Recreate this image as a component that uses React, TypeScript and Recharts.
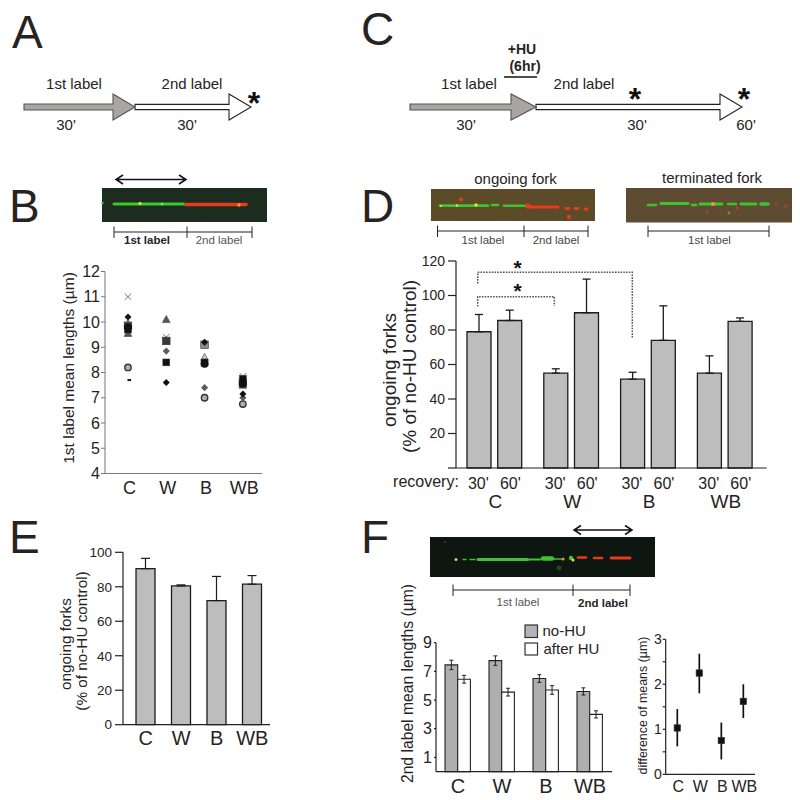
import React from 'react';
import { BarChart, Bar, XAxis, YAxis, ErrorBar, ScatterChart, Scatter } from 'recharts';

const categories = ['C', 'W', 'B', 'WB'];
const categoryIndex = [0, 1, 2, 3];

// Panel B: one list per marker kind, one value per category
const bXGray = [11.0, 9.4, null, 7.85];
const bTriDark = [9.55, 10.1, null, 7.5];
const bTriLight = [null, null, 8.6, null];
const bSquareDark = [9.85, 9.25, null, 7.6];
const bSquareGray = [null, null, 9.1, null];
const bSquareBlack = [9.7, 8.4, 8.4, 7.75];
const bDiamondBlack = [10.2, 7.6, 9.2, 7.15];
const bDiamondGray = [9.95, 8.85, 7.4, 7.0];
const bCircleBlack = [9.8, null, 8.35, 7.55];
const bCircleLight = [8.2, null, 7.0, 6.75];
const bDash = [7.7, null, null, null];

// Panel D
const dMin30 = [79, 55, 51.5, 55];
const dMin60 = [85.5, 90, 74, 85];
const dErr30 = [10, 2.5, 4, 10];
const dErr60 = [6, 19.5, 20, 2];
const dTicks = [0, 20, 40, 60, 80, 100, 120];

// Panel E
const eValues = [90.5, 80.5, 72, 81.5];
const eErr = [6, 0.6, 14, 5];
const eTicks = [0, 20, 40, 60, 80, 100];

// Panel F, bars
const fNoHU = [7.45, 7.75, 6.5, 5.6];
const fAfterHU = [6.45, 5.55, 5.7, 4.0];
const fNoHUErr = [0.33, 0.33, 0.27, 0.25];
const fAfterHUErr = [0.27, 0.27, 0.3, 0.25];
const fTicks = [1, 3, 5, 7, 9];

// Panel F, difference of means
const gMeans = [1.03, 2.25, 0.75, 1.62];
const gLow = [0.41, 0.45, 0.42, 0.37];
const gHigh = [0.42, 0.43, 0.4, 0.38];
const gTicks = [0, 0.5, 1, 1.5, 2, 2.5, 3];

const INK = '#262324';
const FONT = '"Liberation Sans", Arial, sans-serif';
const GREEN = '#3fc232';
const RED = '#e63a1c';
const YEL = '#e6e23c';

const dData = categories.map((name, i) => ({
  name, min30: dMin30[i], min60: dMin60[i], err30: [0, dErr30[i]], err60: [0, dErr60[i]],
}));
const eData = categories.map((name, i) => ({ name, value: eValues[i], err: [0, eErr[i]] }));
const fData = categories.map((name, i) => ({
  name, noHU: fNoHU[i], afterHU: fAfterHU[i], errA: fNoHUErr[i], errB: fAfterHUErr[i],
}));
const gData = categories.map((name, i) => ({ x: i, y: gMeans[i], err: [gLow[i], gHigh[i]] }));
const pts = (vals: (number | null)[]) =>
  vals.map((y, x) => ({ x, y })).filter((p) => p.y !== null);
const catName = (v: number) => categories[v] ?? '';

const marker = (kind: string, fill: string, s = 3.6) => (props: any) => {
  const { cx, cy } = props;
  if (cx == null || cy == null) return <g />;
  if (kind === 'x')
    return (
      <path d={`M${cx - 3.2} ${cy - 3.2}L${cx + 3.2} ${cy + 3.2}M${cx + 3.2} ${cy - 3.2}L${cx - 3.2} ${cy + 3.2}`} stroke={fill} strokeWidth={0.9} fill="none" />
    );
  if (kind === 'tri') return <polygon points={`${cx},${cy - s - 0.5} ${cx + s + 0.3},${cy + s - 0.5} ${cx - s - 0.3},${cy + s - 0.5}`} fill={fill} stroke="#444" strokeWidth={0.6} />;
  if (kind === 'square') return <rect x={cx - s} y={cy - s} width={s * 2} height={s * 2} fill={fill} stroke="#333" strokeWidth={0.6} />;
  if (kind === 'diamond') return <polygon points={`${cx},${cy - s} ${cx + s},${cy} ${cx},${cy + s} ${cx - s},${cy}`} fill={fill} />;
  if (kind === 'circle') return <circle cx={cx} cy={cy} r={s} fill={fill} />;
  if (kind === 'ring') return <circle cx={cx} cy={cy} r={s} fill={fill} stroke="#333" strokeWidth={1.4} />;
  if (kind === 'dash') return <rect x={cx - 0.5} y={cy - 1} width={3.6} height={2} fill={fill} />;
  return <g />;
};

const T = ({ x, y, size, bold, rot, anchor = 'middle', fill = INK, children }: any) => (
  <text
    x={x}
    y={y}
    fontSize={size}
    fontWeight={bold ? 'bold' : 'normal'}
    textAnchor={anchor}
    dominantBaseline="central"
    fill={fill}
    fontFamily={FONT}
    transform={rot ? `rotate(-90 ${x} ${y})` : undefined}
  >
    {children}
  </text>
);

const Letter = ({ x, y, children }: any) => (
  <text x={x} y={y} fontSize={46} fill={INK} fontFamily={FONT}>{children}</text>
);

const Arrow = ({ x0, xh, xt, y, half, head, fill, stroke }: any) => (
  <polygon
    points={`${x0},${y - half} ${xh},${y - half} ${xh},${y - head} ${xt},${y} ${xh},${y + head} ${xh},${y + half} ${x0},${y + half}`}
    fill={fill}
    stroke={stroke}
    strokeWidth={1.1}
  />
);

const Star = ({ x, y, size = 32 }: any) => (
  <text x={x} y={y + size * 0.42} fontSize={size} fontWeight="bold" textAnchor="middle" fill="#111" fontFamily={FONT}>*</text>
);

const DoubleArrow = ({ x1, x2, y }: any) => (
  <path
    d={`M${x1} ${y}L${x2} ${y}M${x1 + 7} ${y - 4.5}L${x1} ${y}L${x1 + 7} ${y + 4.5}M${x2 - 7} ${y - 4.5}L${x2} ${y}L${x2 - 7} ${y + 4.5}`}
    stroke="#111"
    strokeWidth={1.5}
    fill="none"
  />
);

const Scale = ({ xs, y }: any) => (
  <g stroke="#222" strokeWidth={1}>
    <line x1={xs[0]} x2={xs[xs.length - 1]} y1={y} y2={y} />
    {xs.map((x: number) => <line key={x} x1={x} x2={x} y1={y - 5.5} y2={y + 6} />)}
  </g>
);

// Decorative micrograph: [x1, x2, y, colour, width] strokes and [x, y, r, colour] spots
const Fibre = ({ x, y, w, h, bg, segs = [], spots = [] }: any) => (
  <g>
    <rect x={x} y={y} width={w} height={h} fill={bg} />
    <g filter="url(#soft)">
      {segs.map((s: any[], i: number) => (
        <line key={i} x1={s[0]} x2={s[1]} y1={s[2]} y2={s[2]} stroke={s[3]} strokeWidth={s[4]} strokeLinecap="round" />
      ))}
      {spots.map((s: any[], i: number) => <circle key={i} cx={s[0]} cy={s[1]} r={s[2]} fill={s[3]} />)}
    </g>
  </g>
);

const Overlay = () => (
  <svg width={800} height={800} style={{ position: 'absolute', left: 0, top: 0, pointerEvents: 'none' }}>
    <defs>
      <filter id="soft" x="-5%" y="-100%" width="110%" height="300%"><feGaussianBlur stdDeviation="0.75" /></filter>
    </defs>
    <Letter x={12} y={48}>A</Letter>
    <Letter x={9} y={222}>B</Letter>
    <Letter x={361} y={45}>C</Letter>
    <Letter x={361} y={222}>D</Letter>
    <Letter x={9} y={553}>E</Letter>
    <Letter x={361} y={553}>F</Letter>

    {/* A */}
    <T x={74} y={83} size={15}>1st label</T>
    <T x={192} y={83} size={15}>2nd label</T>
    <T x={66} y={124} size={15}>30'</T>
    <T x={187} y={124} size={15}>30'</T>
    <Arrow x0={135} xh={229} xt={251} y={107} half={2.6} head={13} fill="#fff" stroke="#222" />
    <Arrow x0={24} xh={113} xt={135} y={107} half={3} head={13} fill="#a8a5a2" stroke="#555" />
    <Star x={254} y={101} />

    {/* C */}
    <T x={522} y={49} size={14} bold>+HU</T>
    <T x={525} y={66} size={14} bold>(6hr)</T>
    <line x1={504} x2={537} y1={77} y2={77} stroke="#111" strokeWidth={1.3} />
    <T x={469} y={83} size={15}>1st label</T>
    <T x={584} y={83} size={15}>2nd label</T>
    <T x={466} y={124} size={15}>30'</T>
    <T x={637} y={124} size={15}>30'</T>
    <T x={746} y={124} size={15}>60'</T>
    <Arrow x0={536} xh={720} xt={742} y={107} half={2.6} head={13} fill="#fff" stroke="#222" />
    <Arrow x0={410} xh={511} xt={536} y={107} half={3} head={13} fill="#a8a5a2" stroke="#555" />
    <Star x={635} y={97} />
    <Star x={744} y={97} />

    {/* B image */}
    <DoubleArrow x1={116} x2={186} y={179.5} />
    <Fibre
      x={102} y={188} w={165} h={34} bg="#1c2c1e"
      segs={[[114, 184, 204, GREEN, 3.2], [186, 246, 204.5, RED, 3.6]]}
      spots={[[102.5, 203, 1.2, GREEN], [140, 203.5, 1.6, YEL], [162, 204, 1.2, '#a8e040'], [239, 205, 1.7, '#f0a030']]}
    />
    <Scale xs={[114, 187, 252]} y={232} />
    <T x={147} y={240} size={11.5} bold>1st label</T>
    <T x={219} y={240} size={11.5} fill="#555">2nd label</T>
    <T x={68.5} y={368} size={15.5} rot>1st label mean lengths (µm)</T>

    {/* D images */}
    <T x={515.5} y={178} size={15}>ongoing fork</T>
    <T x={712} y={177.5} size={15}>terminated fork</T>
    <Fibre
      x={431} y={189} w={164} h={32} bg="#5c4b29"
      segs={[[440, 488, 205.7, GREEN, 2.8], [492, 498, 205, GREEN, 2.6], [504, 526, 205.7, GREEN, 2.6], [528, 558, 207, RED, 2.8], [566, 569, 208.5, RED, 2.8], [575, 578, 208.5, RED, 2.8], [585, 587, 209, RED, 3]]}
      spots={[[461, 199.5, 2, RED], [569, 217, 2.2, RED], [476, 205, 1.7, YEL], [457, 205.5, 1.2, YEL], [441, 206, 1.1, YEL], [528, 206, 2.6, RED]]}
    />
    <Fibre
      x={626} y={188} w={166} h={34.5} bg="#5e4c32"
      segs={[[648, 656, 205, GREEN, 2.6], [661, 688, 203.5, GREEN, 2.8], [692, 696, 205, GREEN, 2.6], [700, 722, 204, GREEN, 3], [728, 736, 204, GREEN, 2.6], [741, 756, 204, GREEN, 2.8], [761, 768, 204, GREEN, 3.6]]}
      spots={[[713, 204, 2, '#e0a030'], [707, 212, 1.5, '#a04a28'], [729, 213, 1.4, '#a07830'], [776, 205, 1.4, '#a04a28'], [786, 206, 1.6, '#a04a28'], [737, 208, 1.4, '#b04a28']]}
    />
    <Scale xs={[437.5, 524, 588]} y={231} />
    <T x={483} y={239.5} size={11.5} fill="#444">1st label</T>
    <T x={556} y={239.5} size={11.5} fill="#444">2nd label</T>
    <Scale xs={[648, 769]} y={231} />
    <T x={709.5} y={239.5} size={11.5} fill="#444">1st label</T>

    {/* D labels and brackets */}
    <T x={389} y={370} size={19} rot>ongoing forks</T>
    <T x={409} y={366.5} size={19} rot>(% of no-HU control)</T>
    <T x={426} y={481.5} size={16}>recovery:</T>
    <path d="M477.7 283.5V272.3H632.3V337.5" fill="none" stroke="#555" strokeWidth={1.5} strokeDasharray="1.6 1.2" />
    <path d="M477.7 306.5V296.7H554.3V306" fill="none" stroke="#555" strokeWidth={1.5} strokeDasharray="1.6 1.2" />
    <Star x={517.5} y={266} size={21} />
    <Star x={517.5} y={289.5} size={21} />

    {/* E */}
    <T x={65} y={644} size={15.3} rot>ongoing forks</T>
    <T x={81} y={641} size={15.3} rot>(% of no-HU control)</T>

    {/* F image */}
    <DoubleArrow x1={574} x2={632} y={530} />
    <Fibre
      x={430} y={537} w={225} h={40} bg="#0d1610"
      segs={[[463, 466, 559.5, GREEN, 1.3], [470, 475, 559.5, GREEN, 1.3], [478, 528, 559.5, GREEN, 3], [530, 540, 559.5, GREEN, 2], [543, 552, 558.5, GREEN, 4.5], [553, 561, 559, GREEN, 1.6], [578, 586, 557.5, RED, 2.6], [594, 602, 558, RED, 2.6], [611, 630, 558, RED, 2.8]]}
      spots={[[456, 559.5, 1.5, '#a0e090'], [563, 559, 1.6, '#c8a030'], [571, 558, 2.2, GREEN], [573, 560, 1.5, YEL], [559, 568, 2.4, '#1c4a20'], [445, 542, 1, '#8a2a20']]}
    />
    <Scale xs={[453, 573, 630]} y={590} />
    <T x={518} y={602} size={11.5} fill="#555">1st label</T>
    <T x={603} y={603} size={11.5} bold>2nd label</T>

    {/* F legend and labels */}
    <rect x={525} y={625} width={12.5} height={12.5} fill="#b4b4b4" stroke="#333" strokeWidth={1.2} />
    <T x={542.5} y={630} size={15} anchor="start">no-HU</T>
    <rect x={525} y={643} width={12.5} height={12} fill="#fff" stroke="#333" strokeWidth={1.2} />
    <T x={543.5} y={648.5} size={15} anchor="start">after HU</T>
    <T x={407} y={683.5} size={15.7} rot>2nd label mean lengths (µm)</T>
    <T x={642.5} y={705.5} size={12.4} rot>difference of means (µm)</T>
  </svg>
);

const DTick = (props: any) => {
  const { x, y, payload } = props;
  return (
    <g>
      <text x={x - 16} y={y + 13.5} textAnchor="middle" dominantBaseline="central" fontSize={16} fill={INK}>30'</text>
      <text x={x + 16} y={y + 13.5} textAnchor="middle" dominantBaseline="central" fontSize={16} fill={INK}>60'</text>
      <text x={x + 1} y={y + 31} textAnchor="middle" dominantBaseline="central" fontSize={19} fill={INK}>{payload.value}</text>
    </g>
  );
};

const box = (left: number, top: number): React.CSSProperties => ({ position: 'absolute', left, top });
const axisInk = { stroke: '#222', strokeWidth: 1.2 };

export default function App() {
  return (
    <div style={{ position: 'absolute', left: 0, top: 0, width: 800, height: 800, background: '#fff', fontFamily: FONT, overflow: 'hidden' }}>
      {/* B */}
      <div style={box(0, 260)}>
        <ScatterChart width={280} height={240} margin={{ top: 11.5, right: 18, bottom: 0, left: 0 }}>
          <XAxis type="number" dataKey="x" domain={[-0.6, 3.5]} ticks={categoryIndex} tickFormatter={catName} height={26.5} tickLine={false} tickSize={0} tickMargin={8} interval={0} axisLine={{ stroke: '#777', strokeWidth: 1 }} tick={{ fontSize: 18, fill: INK, dx: 1.5 }} />
          <YAxis type="number" dataKey="y" domain={[4, 12]} ticks={[4, 5, 6, 7, 8, 9, 10, 11, 12]} width={105} tickSize={4} tickMargin={1} interval={0} axisLine={{ stroke: '#777', strokeWidth: 1 }} tickLine={{ stroke: '#777' }} tick={{ fontSize: 16, fill: INK }} />
          <Scatter data={pts(bXGray)} shape={marker('x', '#666')} isAnimationActive={false} />
          <Scatter data={pts(bTriDark)} shape={marker('tri', '#555')} isAnimationActive={false} />
          <Scatter data={pts(bTriLight)} shape={marker('tri', '#c4c4c4')} isAnimationActive={false} />
          <Scatter data={pts(bSquareGray)} shape={marker('square', '#8c8c8c', 3.8)} isAnimationActive={false} />
          <Scatter data={pts(bSquareDark)} shape={marker('square', '#343a42', 3.8)} isAnimationActive={false} />
          <Scatter data={pts(bDiamondGray)} shape={marker('diamond', '#5c5c5c')} isAnimationActive={false} />
          <Scatter data={pts(bSquareBlack)} shape={marker('square', '#111', 3.4)} isAnimationActive={false} />
          <Scatter data={pts(bCircleBlack)} shape={marker('circle', '#111', 4)} isAnimationActive={false} />
          <Scatter data={pts(bDiamondBlack)} shape={marker('diamond', '#111', 3.5)} isAnimationActive={false} />
          <Scatter data={pts(bCircleLight)} shape={marker('ring', '#b0b0b0', 3.2)} isAnimationActive={false} />
          <Scatter data={pts(bDash)} shape={marker('dash', '#111')} isAnimationActive={false} />
        </ScatterChart>
      </div>

      {/* D */}
      <div style={box(370, 250)}>
        <BarChart width={420} height={260} data={dData} margin={{ top: 11, right: 23.3, bottom: 0, left: 0 }} barSize={24} barGap={6.7} barCategoryGap={0}>
          <XAxis dataKey="name" height={42} padding={{ left: 0, right: 3.5 }} tickLine={false} tickSize={0} interval={0} axisLine={axisInk} tick={<DTick />} />
          <YAxis domain={[0, 120]} ticks={dTicks} width={86} tickSize={8} tickMargin={3} interval={0} tickFormatter={(v: number) => (v === 0 ? '' : String(v))} axisLine={axisInk} tickLine={axisInk} tick={{ fontSize: 14, fill: INK }} />
          <Bar dataKey="min30" fill="#bdbdbd" stroke="#1c1c1c" strokeWidth={1.3} isAnimationActive={false}>
            <ErrorBar dataKey="err30" direction="y" width={4} stroke="#1c1c1c" strokeWidth={1.3} isAnimationActive={false} />
          </Bar>
          <Bar dataKey="min60" fill="#bdbdbd" stroke="#1c1c1c" strokeWidth={1.3} isAnimationActive={false}>
            <ErrorBar dataKey="err60" direction="y" width={4} stroke="#1c1c1c" strokeWidth={1.3} isAnimationActive={false} />
          </Bar>
        </BarChart>
      </div>

      {/* E */}
      <div style={box(0, 542)}>
        <BarChart width={290} height={215} data={eData} margin={{ top: 10.3, right: 20, bottom: 0, left: 0 }} barSize={19} barCategoryGap={0}>
          <XAxis dataKey="name" height={32.3} padding={{ left: 5, right: 0 }} tickLine={false} tickSize={0} tickMargin={6} interval={0} axisLine={axisInk} tick={{ fontSize: 20, fill: INK }} />
          <YAxis domain={[0, 100]} ticks={eTicks} width={123} tickSize={8} tickMargin={3} interval={0} axisLine={axisInk} tickLine={axisInk} tick={{ fontSize: 13.5, fill: INK }} />
          <Bar dataKey="value" fill="#bdbdbd" stroke="#1c1c1c" strokeWidth={1.3} isAnimationActive={false}>
            <ErrorBar dataKey="err" direction="y" width={4.5} stroke="#1c1c1c" strokeWidth={1.2} isAnimationActive={false} />
          </Bar>
        </BarChart>
      </div>

      {/* F bars */}
      <div style={box(370, 632)}>
        <BarChart width={260} height={168} data={fData} margin={{ top: 10.7, right: 18, bottom: 0, left: 0 }} barSize={12.7} barGap={0} barCategoryGap={0}>
          <XAxis dataKey="name" height={28.3} tickLine={false} tickSize={0} tickMargin={7} interval={0} axisLine={axisInk} tick={{ fontSize: 20, fill: INK }} />
          <YAxis domain={[0, 9]} ticks={fTicks} width={66} tickSize={2} tickMargin={2} interval={0} axisLine={axisInk} tickLine={axisInk} tick={{ fontSize: 16, fill: INK }} />
          <Bar dataKey="noHU" fill="#aeaeae" stroke="#222" strokeWidth={1.1} isAnimationActive={false}>
            <ErrorBar dataKey="errA" direction="y" width={2} stroke="#222" strokeWidth={1} isAnimationActive={false} />
          </Bar>
          <Bar dataKey="afterHU" fill="#fff" stroke="#222" strokeWidth={1.1} isAnimationActive={false}>
            <ErrorBar dataKey="errB" direction="y" width={2} stroke="#222" strokeWidth={1} isAnimationActive={false} />
          </Bar>
        </BarChart>
      </div>

      {/* F difference of means */}
      <div style={box(640, 630)}>
        <ScatterChart width={150} height={170} margin={{ top: 9.3, right: 35, bottom: 0, left: 0 }}>
          <XAxis type="number" dataKey="x" domain={[-0.527, 3.53]} ticks={categoryIndex} tickFormatter={catName} height={25.7} tickLine={false} tickSize={0} tickMargin={6} interval={0} axisLine={axisInk} tick={{ fontSize: 16, fill: INK, dx: 1 }} />
          <YAxis type="number" dataKey="y" domain={[0, 3]} ticks={gTicks} width={25.7} tickSize={3} tickMargin={1} interval={0} tickFormatter={(v: number) => (Number.isInteger(v) ? String(v) : '')} axisLine={axisInk} tickLine={axisInk} tick={{ fontSize: 14, fill: INK }} />
          <Scatter data={gData} shape={marker('square', '#111', 3.2)} isAnimationActive={false}>
            <ErrorBar dataKey="err" direction="y" width={0} stroke="#111" strokeWidth={1.7} isAnimationActive={false} />
          </Scatter>
        </ScatterChart>
      </div>

      <Overlay />
    </div>
  );
}
